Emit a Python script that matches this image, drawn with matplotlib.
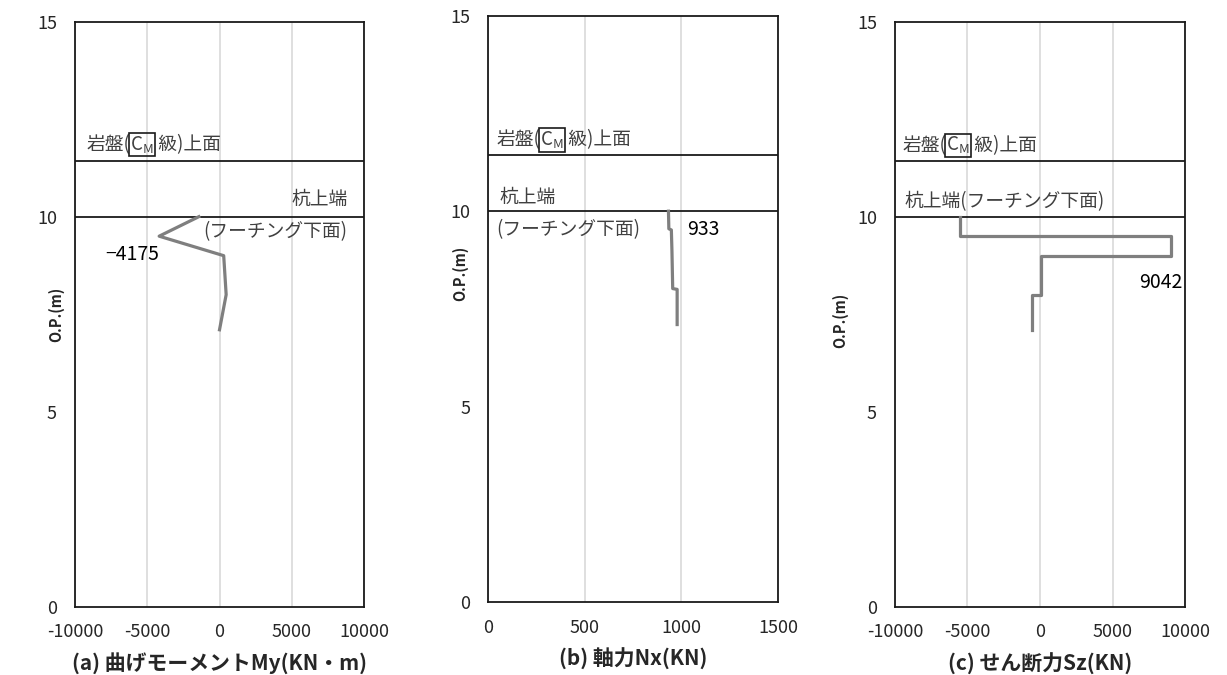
import matplotlib
matplotlib.use('Agg')
import matplotlib.pyplot as plt

plt.rcParams['font.family'] = ['Noto Sans CJK JP', 'DejaVu Sans']
plt.rcParams['axes.unicode_minus'] = False

# data
depth_a = [10.0, 9.5, 9.0, 8.0, 7.1]
moment_a = [-1430, -4175, 290, 460, 0]

depth_b = [10.0, 9.55, 9.52, 9.0, 8.02, 8.0, 7.1]
axial_b = [933, 935, 948, 951, 955, 978, 978]

depth_c = [10.0, 9.5, 9.5, 9.0, 9.0, 8.0, 8.0, 7.1]
shear_c = [-5550, -5550, 9042, 9042, 100, 100, -550, -550]

rock_top = 11.43
pile_top = 10.0

xlabels = ['(a) 曲げモーメントMy(KN・m)', '(b) 軸力Nx(KN)', '(c) せん断力Sz(KN)']
yticks = [0, 5, 10, 15]

line_col = '#7f7f7f'
txt_col = '#404040'

fig = plt.figure(figsize=(12.27, 6.75), dpi=100)
ax_a = fig.add_axes([0.0611, 0.1012, 0.2356, 0.8667])
ax_b = fig.add_axes([0.3980, 0.1080, 0.2360, 0.8687])
ax_c = fig.add_axes([0.7294, 0.1012, 0.2364, 0.8667])


def style(ax, xlim, xticks, label, ylab_pos):
    ax.set_xlim(xlim)
    ax.set_ylim(0, 15)
    ax.set_xticks(xticks)
    ax.set_yticks(yticks)
    ax.tick_params(length=0, labelsize=13, colors='#262626')
    ax.tick_params(axis='x', pad=12)
    ax.tick_params(axis='y', pad=13)
    ax.grid(axis='x', color='#d9d9d9', linewidth=1.2)
    ax.set_axisbelow(True)
    for s in ax.spines.values():
        s.set_linewidth(1.3)
        s.set_color('#1a1a1a')
    ax.set_xlabel(label, fontsize=15, fontweight='bold', labelpad=8, color='#262626')
    ax.set_ylabel('O.P.(m)', fontsize=10.5, fontweight='bold', color='#262626')
    ax.yaxis.set_label_coords(*ylab_pos)
    ax.axhline(rock_top, color='#1a1a1a', linewidth=1.3)
    ax.axhline(pile_top, color='#1a1a1a', linewidth=1.3)


def rock_label(ax, x, y):
    t1 = ax.text(x, y, '岩盤(', fontsize=13.5, color=txt_col, va='center')
    t2 = ax.annotate('C$_\\mathregular{M}$', xy=(1, 0.5), xycoords=t1, va='center',
                     fontsize=13.5, color=txt_col,
                     bbox=dict(boxstyle='square,pad=0.05', fc='none', ec='#1a1a1a', lw=1.2))
    ax.annotate(' 級)上面', xy=(1, 0.5), xycoords=t2, va='center',
                fontsize=13.5, color=txt_col)


style(ax_a, (-10000, 10000), [-10000, -5000, 0, 5000, 10000], xlabels[0], (-0.038, 0.5))
style(ax_b, (0, 1500), [0, 500, 1000, 1500], xlabels[1], (-0.069, 0.56))
style(ax_c, (-10000, 10000), [-10000, -5000, 0, 5000, 10000], xlabels[2], (-0.162, 0.49))

ax_a.plot(moment_a, depth_a, color=line_col, linewidth=2.3)
ax_b.plot(axial_b, depth_b, color=line_col, linewidth=2.3)
ax_c.plot(shear_c, depth_c, color=line_col, linewidth=2.3)

# panel a texts
rock_label(ax_a, -9200, 11.84)
ax_a.text(8860, 10.43, '杭上端', fontsize=13.5, color=txt_col, ha='right', va='center')
ax_a.text(8860, 9.62, '(フーチング下面)', fontsize=13.5, color=txt_col, ha='right', va='center')
ax_a.text(-4160, 9.02, '\u22124175', fontsize=14, color='black', ha='right', va='center')

# panel b texts
rock_label(ax_b, 42, 11.82)
ax_b.text(57, 10.36, '杭上端', fontsize=13.5, color=txt_col, va='center')
ax_b.text(42, 9.52, '(フーチング下面)', fontsize=13.5, color=txt_col, va='center')
ax_b.text(1031, 9.52, '933', fontsize=14, color='black', va='center')

# panel c texts
rock_label(ax_c, -9490, 11.82)
ax_c.text(-9350, 10.39, '杭上端(フーチング下面)', fontsize=13.5, color=txt_col, va='center')
ax_c.text(9840, 8.30, '9042', fontsize=14, color='black', ha='right', va='center')

fig.savefig('out.png', dpi=100)
